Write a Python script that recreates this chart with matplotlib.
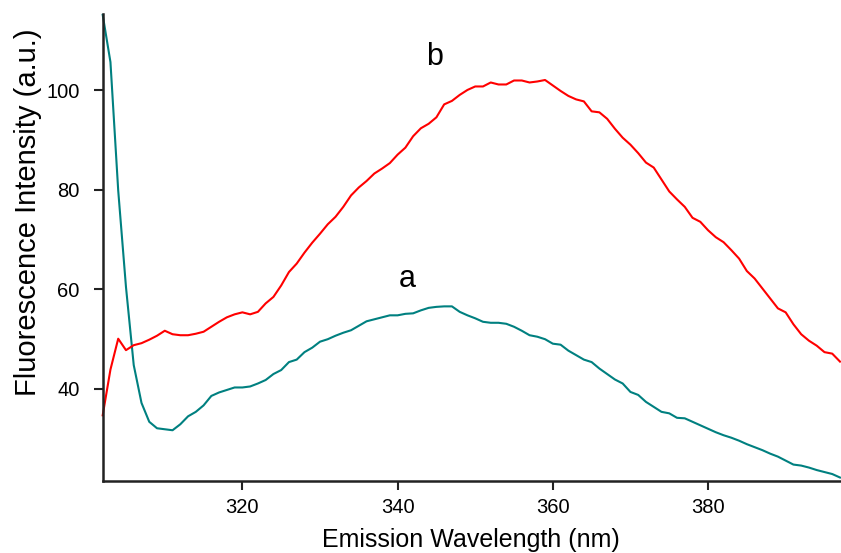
import matplotlib
matplotlib.use("Agg")
import matplotlib.pyplot as plt
import numpy as np

plt.rcParams['font.family'] = ['Liberation Sans', 'DejaVu Sans']

wavelength = np.arange(302, 398)  # nm

# curve a (teal)
intensity_a = [115.2, 105.7, 79.9, 60.5, 44.8, 37.2, 33.4, 32.1, 31.9, 31.7,
               32.9, 34.5, 35.4, 36.7, 38.6, 39.3, 39.8, 40.3, 40.3, 40.5,
               41.1, 41.8, 43.0, 43.8, 45.4, 45.9, 47.4, 48.3, 49.5, 50.0,
               50.7, 51.3, 51.8, 52.7, 53.6, 54.0, 54.4, 54.8, 54.8, 55.1,
               55.2, 55.8, 56.3, 56.5, 56.6, 56.6, 55.5, 54.8, 54.2, 53.5,
               53.3, 53.3, 53.1, 52.5, 51.7, 50.8, 50.5, 50.0, 49.1, 48.9,
               47.7, 46.8, 45.9, 45.4, 44.1, 43.0, 41.9, 41.1, 39.4, 38.8,
               37.4, 36.4, 35.4, 35.1, 34.2, 34.1, 33.4, 32.7, 32.0, 31.3,
               30.7, 30.2, 29.6, 28.9, 28.3, 27.7, 27.0, 26.4, 25.6, 24.8,
               24.6, 24.2, 23.7, 23.3, 22.9, 22.2]

# curve b (red)
intensity_b = [34.7, 43.9, 50.1, 47.8, 48.8, 49.2, 49.9, 50.7, 51.7, 51.0,
               50.8, 50.8, 51.1, 51.5, 52.5, 53.5, 54.4, 55.0, 55.4, 55.0,
               55.5, 57.2, 58.5, 60.8, 63.5, 65.2, 67.4, 69.4, 71.2, 73.1,
               74.6, 76.6, 78.9, 80.5, 81.8, 83.3, 84.3, 85.4, 87.1, 88.5,
               90.8, 92.4, 93.3, 94.6, 97.2, 97.9, 99.1, 100.1, 100.8, 100.8,
               101.6, 101.2, 101.2, 102.0, 102.0, 101.6, 101.8, 102.1, 101.0, 99.9,
               98.9, 98.2, 97.8, 95.8, 95.6, 94.3, 92.3, 90.5, 89.1, 87.4,
               85.5, 84.5, 82.1, 79.7, 78.1, 76.6, 74.4, 73.6, 71.9, 70.5,
               69.5, 67.9, 66.2, 63.7, 62.2, 60.2, 58.2, 56.2, 55.4, 53.0,
               51.0, 49.7, 48.7, 47.4, 47.1, 45.5]

fig = plt.figure(figsize=(8.41, 5.53), dpi=100)
ax = fig.add_axes([0.1221, 0.1302, 0.8767, 0.8439])

ax.plot(wavelength, intensity_a, color='#008080', lw=1.5, clip_on=False)
ax.plot(wavelength, intensity_b, color='#ff0000', lw=1.5, clip_on=False)

ax.text(341.3, 62.2, 'a', fontsize=22, ha='center', va='center')
ax.text(344.75, 106.8, 'b', fontsize=22, ha='center', va='center')

ax.set_xlim(302, 397)
ax.set_ylim(21.5, 115.3)
ax.set_xticks([320, 340, 360, 380])
ax.set_yticks([40, 60, 80, 100])

for s in ['top', 'right']:
    ax.spines[s].set_visible(False)
for s in ['left', 'bottom']:
    ax.spines[s].set_linewidth(1.8)
    ax.spines[s].set_color('#222222')
ax.tick_params(length=6.5, width=1.5, color='#222222', labelsize=14.5)
ax.tick_params(axis='x', pad=6)
ax.tick_params(axis='y', pad=10)

ax.set_xlabel('Emission Wavelength (nm)', fontsize=18, labelpad=8)
ax.set_ylabel('Fluorescence Intensity (a.u.)', fontsize=21)
ax.yaxis.set_label_coords(-0.082, 0.575)

fig.savefig('out.png', dpi=100)
